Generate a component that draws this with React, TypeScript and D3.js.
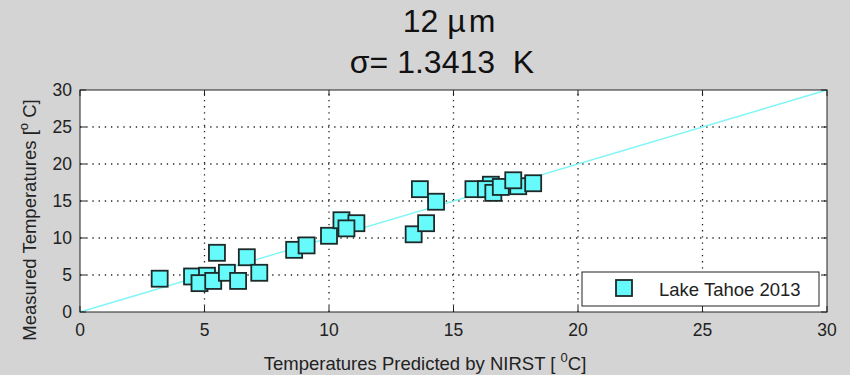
import React, { useEffect, useRef } from 'react';
import * as d3 from 'd3';

// Lake Tahoe 2013, 12 um band
const predicted = [3.2, 4.5, 5.1, 4.8, 5.35, 5.5, 5.9, 6.35, 6.7, 7.2, 8.6, 9.1, 10.0, 10.5, 11.1, 10.7, 13.4, 13.9, 13.65, 14.3, 15.8, 16.5, 16.3, 16.6, 16.9, 17.6, 17.4, 18.2];
const measured = [4.5, 4.8, 4.9, 3.9, 4.2, 8.0, 5.3, 4.2, 7.4, 5.3, 8.4, 9.0, 10.3, 12.4, 12.0, 11.3, 10.5, 12.0, 16.6, 14.9, 16.6, 17.2, 16.6, 16.1, 16.9, 17.0, 17.8, 17.4];
const xTicks = [0, 5, 10, 15, 20, 25, 30];
const yTicks = [0, 5, 10, 15, 20, 25, 30];
const seriesName = 'Lake Tahoe 2013';
const sigmaLine = '\u03c3= 1.3413  K';

export default function App() {
  const ref = useRef<SVGSVGElement>(null);

  useEffect(() => {
    const width = 850, height = 375;
    const left = 80, right = 827, top = 90, bottom = 312;
    const font = 'Liberation Sans, Arial, Helvetica, sans-serif';

    const svg = d3.select(ref.current);
    svg.selectAll('*').remove();

    svg.append('rect').attr('width', width).attr('height', height).attr('fill', '#d4d4d4');

    var x = d3.scaleLinear().domain([0, 30]).range([left, right]);
    var y = d3.scaleLinear().domain([0, 30]).range([bottom, top]);

    /* plot area */
    svg.append('rect')
      .attr('x', left).attr('y', top)
      .attr('width', right - left).attr('height', bottom - top)
      .attr('fill', '#fff');

    /* dotted grid */
    const grid = svg.append('g').attr('stroke', '#222').attr('stroke-width', 1.3).attr('stroke-dasharray', '1.3,4.9');
    xTicks.slice(1, -1).forEach(t => {
      grid.append('line').attr('x1', x(t)).attr('x2', x(t)).attr('y1', bottom).attr('y2', top);
    });
    yTicks.slice(1, -1).forEach(t => {
      grid.append('line').attr('x1', left).attr('x2', right).attr('y1', y(t)).attr('y2', y(t));
    });

    /* 1:1 line */
    svg.append('line')
      .attr('x1', x(0)).attr('y1', y(0)).attr('x2', x(30)).attr('y2', y(30))
      .attr('stroke', '#7ff5f5').attr('stroke-width', 1.4);

    /* markers */
    const size = 16;
    svg.append('g')
      .selectAll('rect')
      .data(predicted.map((p, i) => ({ p, m: measured[i] })))
      .enter()
      .append('rect')
      .attr('x', d => x(d.p) - size / 2)
      .attr('y', d => y(d.m) - size / 2)
      .attr('width', size).attr('height', size)
      .attr('fill', '#66fafa').attr('stroke', '#1c2a2a').attr('stroke-width', 1.8);

    /* axes: box with inward ticks */
    const axes = svg.append('g').attr('stroke', '#222').attr('stroke-width', 1);
    axes.append('rect')
      .attr('x', left).attr('y', top)
      .attr('width', right - left).attr('height', bottom - top)
      .attr('fill', 'none');
    const tl = 6;
    xTicks.forEach(t => {
      axes.append('line').attr('x1', x(t)).attr('x2', x(t)).attr('y1', bottom).attr('y2', bottom - tl);
      axes.append('line').attr('x1', x(t)).attr('x2', x(t)).attr('y1', top).attr('y2', top + tl);
    });
    yTicks.forEach(t => {
      axes.append('line').attr('x1', left).attr('x2', left + tl).attr('y1', y(t)).attr('y2', y(t));
      axes.append('line').attr('x1', right).attr('x2', right - tl).attr('y1', y(t)).attr('y2', y(t));
    });

    /* tick labels */
    svg.append('g').selectAll('text').data(xTicks).enter().append('text')
      .attr('x', d => x(d)).attr('y', 336)
      .attr('text-anchor', 'middle')
      .attr('font-family', font).attr('font-size', 17.5).attr('fill', '#222')
      .text(d => d);
    svg.append('g').selectAll('text').data(yTicks).enter().append('text')
      .attr('x', 72).attr('y', d => y(d) + 6)
      .attr('text-anchor', 'end')
      .attr('font-family', font).attr('font-size', 17.5).attr('fill', '#222')
      .text(d => d);

    /* axis labels */
    const xl = svg.append('text')
      .attr('x', 425).attr('y', 370)
      .attr('text-anchor', 'middle')
      .attr('font-family', font).attr('font-size', 18.5).attr('fill', '#222');
    xl.append('tspan').text('Temperatures Predicted by NIRST [ ');
    xl.append('tspan').attr('dy', -8).attr('font-size', 13).text('0');
    xl.append('tspan').attr('dy', 8).text('C]');

    const yl = svg.append('text')
      .attr('transform', `translate(36, 220) rotate(-90)`)
      .attr('text-anchor', 'middle')
      .attr('font-family', font).attr('font-size', 18.5).attr('fill', '#222');
    yl.append('tspan').text('Measured Temperatures [');
    yl.append('tspan').attr('dy', -8).attr('font-size', 13).text('o');
    yl.append('tspan').attr('dy', 8).text(' C]');

    /* title */
    const t1 = svg.append('text')
      .attr('x', 449).attr('y', 32)
      .attr('text-anchor', 'middle')
      .attr('font-family', font).attr('font-size', 32).attr('fill', '#111');
    t1.append('tspan').text('12 \u00b5');
    t1.append('tspan').attr('dx', 3).text('m');
    svg.append('text')
      .attr('x', 442).attr('y', 73)
      .attr('text-anchor', 'middle')
      .attr('font-family', font).attr('font-size', 32).attr('fill', '#111')
      .style('white-space', 'pre')
      .text(sigmaLine);

    /* legend */
    const lg = svg.append('g');
    lg.append('rect')
      .attr('x', 582).attr('y', 272).attr('width', 237).attr('height', 34)
      .attr('fill', '#fff').attr('stroke', '#222').attr('stroke-width', 1);
    lg.append('rect')
      .attr('x', 624 - size / 2).attr('y', 288 - size / 2)
      .attr('width', size).attr('height', size)
      .attr('fill', '#66fafa').attr('stroke', '#1c2a2a').attr('stroke-width', 1.8);
    lg.append('text')
      .attr('x', 659).attr('y', 296)
      .attr('font-family', font).attr('font-size', 18.5).attr('fill', '#222')
      .text(seriesName);
  }, []);

  return (
    <svg ref={ref} width={850} height={375} style={{ position: 'absolute', left: 0, top: 0 }} />
  );
}
